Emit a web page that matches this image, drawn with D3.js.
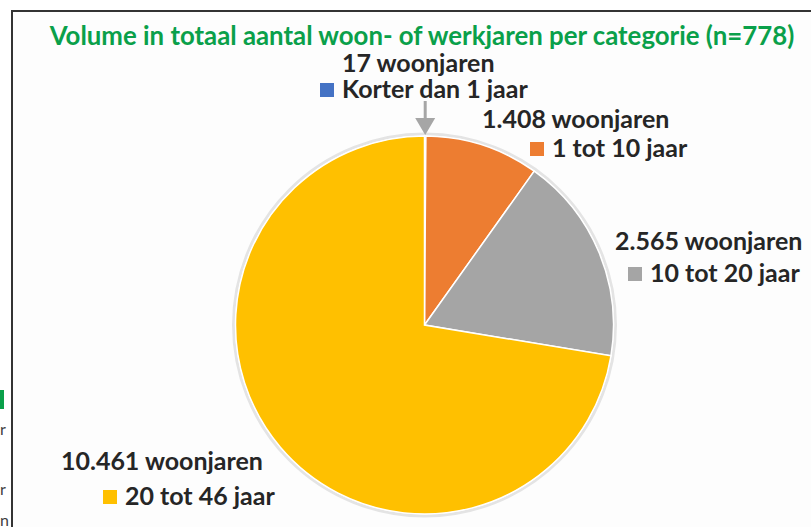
<!DOCTYPE html>
<html>
<head>
<meta charset="utf-8">
<script src="https://cdn.jsdelivr.net/npm/d3@7"></script>
<style>
  body { margin: 0; background: #fff; }
  svg { display: block; }
</style>
</head>
<body>
<div id="chart"></div>
<script>
// data
const categories = ["Korter dan 1 jaar", "1 tot 10 jaar", "10 tot 20 jaar", "20 tot 46 jaar"];
const values = [17, 1408, 2565, 10461];
const colors = ["#4472C4", "#ED7D31", "#A5A5A5", "#FFC000"];
const title = "Volume in totaal aantal woon- of werkjaren per categorie (n=778)";

// label placement (like manually dragged Excel labels)
const labelLayout = [
    { x1: 342, y1: 72, x2: 320, y2: 98 },
    { x1: 482, y1: 128, x2: 530, y2: 157 },
    { x1: 615, y1: 250, x2: 628, y2: 282 },
    { x1: 61, y1: 470, x2: 103, y2: 505 }
];

const width = 811, height = 527;
const cx = 424.5, cy = 325, radius = 189;
const fontFam = "Lato, 'Open Sans', sans-serif";

const nl = d3.formatLocale({ decimal: ",", thousands: ".", grouping: [3], currency: ["€", ""] });
const fmt = nl.format(",d");

const svg = d3.select("#chart").append("svg")
    .attr("width", width)
    .attr("height", height);

// slide frame + bits of neighbouring content on the left
svg.append("rect")
    .attr("x", 12).attr("y", 11)
    .attr("width", width).attr("height", height)
    .attr("fill", "#fdfdfd")
    .attr("stroke", "#333")
    .attr("stroke-width", 2);

svg.append("rect")
    .attr("x", 0).attr("y", 390).attr("width", 4).attr("height", 19)
    .attr("fill", "#0aa04a");

[["r", 435], ["r", 495], ["n", 526]].forEach(([t, y]) => {
    svg.append("text")
        .attr("x", 0).attr("y", y)
        .attr("font-family", fontFam)
        .attr("font-size", 16)
        .attr("fill", "#404040")
        .text(t);
});

// title, sized to span the same width as the original
const titleText = svg.append("text")
    .attr("x", 422)
    .attr("y", 45)
    .attr("text-anchor", "middle")
    .attr("font-family", fontFam)
    .attr("font-weight", "bold")
    .attr("font-size", 26)
    .attr("fill", "#0aa04a")
    .text(title);
const tw = titleText.node().getComputedTextLength();
titleText.attr("font-size", 26 * 745 / tw);

// pie
const pie = d3.pie().sort(null).value(d => d.value);
const arc = d3.arc().innerRadius(0).outerRadius(radius);
const arcs = pie(categories.map((c, i) => ({ name: c, value: values[i], color: colors[i] })));

svg.append("circle")
    .attr("cx", cx).attr("cy", cy)
    .attr("r", radius + 2)
    .attr("fill", "none")
    .attr("stroke", "#e4e4e4")
    .attr("stroke-width", 3);

const g = svg.append("g").attr("transform", `translate(${cx},${cy})`);

g.selectAll("path.slice")
    .data(arcs)
    .enter()
    .append("path")
    .attr("class", "slice")
    .attr("d", arc)
    .attr("fill", d => d.data.color)
    .attr("stroke", "#fff")
    .attr("stroke-width", 1.5);

// labels: find font size so that the longest value label has the original width
const probe = svg.append("text")
    .attr("font-family", fontFam)
    .attr("font-weight", "bold")
    .attr("font-size", 22)
    .text(fmt(values[3]) + " woonjaren");
const labelSize = 22 * 202 / probe.node().getComputedTextLength();
probe.remove();

const labels = svg.append("g")
    .selectAll("g")
    .data(arcs)
    .enter()
    .append("g")
    .attr("font-family", fontFam)
    .attr("font-weight", "bold")
    .attr("font-size", labelSize)
    .attr("fill", "#262626");

labels.append("text")
    .attr("x", (d, i) => labelLayout[i].x1)
    .attr("y", (d, i) => labelLayout[i].y1)
    .text(d => fmt(d.data.value) + " woonjaren");

labels.append("rect")
    .attr("x", (d, i) => labelLayout[i].x2)
    .attr("y", (d, i) => labelLayout[i].y2 - 15)
    .attr("width", 14)
    .attr("height", 14)
    .attr("fill", d => d.data.color);

labels.append("text")
    .attr("x", (d, i) => labelLayout[i].x2 + 22)
    .attr("y", (d, i) => labelLayout[i].y2)
    .text(d => d.data.name);

// arrow pointing at the tiny first slice
const a0 = (arcs[0].startAngle + arcs[0].endAngle) / 2;
const tipX = cx + Math.sin(a0) * (radius + 1);
const tipY = cy - Math.cos(a0) * (radius + 1);

svg.append("line")
    .attr("x1", tipX).attr("y1", 101)
    .attr("x2", tipX).attr("y2", tipY - 14)
    .attr("stroke", "#a6a6a6")
    .attr("stroke-width", 3);

svg.append("path")
    .attr("d", `M${tipX - 10},${tipY - 17} L${tipX + 10},${tipY - 17} L${tipX},${tipY} Z`)
    .attr("fill", "#a6a6a6");
</script>
</body>
</html>
